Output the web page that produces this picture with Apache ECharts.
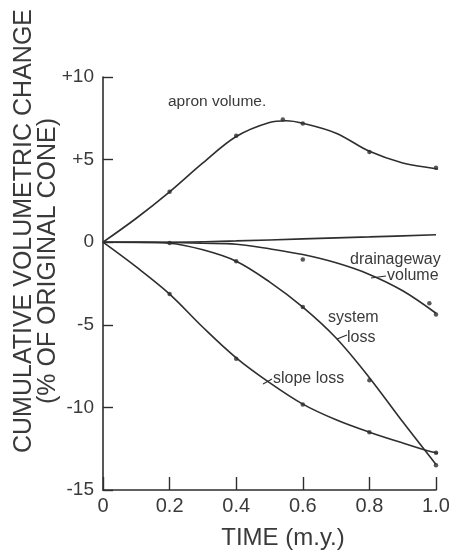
<!DOCTYPE html>
<html>
<head>
<meta charset="utf-8">
<script src="https://cdn.jsdelivr.net/npm/echarts@6/dist/echarts.min.js"></script>
<style>html,body{margin:0;padding:0;background:#fff}#c{width:454px;height:552px}</style>
</head>
<body>
<div id="c"></div>
<script>
// ---- data ----
const xTicks = [0, 0.2, 0.4, 0.6, 0.8, 1.0];
const yTicks = [-15, -10, -5, 0, 5, 10];

const apronCurve = [[0,0],[0.1,1.45],[0.2,3.05],[0.3,4.8],[0.4,6.4],[0.5,7.25],[0.55,7.35],[0.6,7.2],[0.7,6.6],[0.8,5.5],[0.9,4.8],[1.0,4.45],[1.03,4.35]];
const apronPts = [[0.2,3.05],[0.4,6.45],[0.54,7.42],[0.6,7.18],[0.8,5.46],[1.0,4.5]];

const flatLine = [[0,0],[0.2,0],[0.4,0.08],[0.6,0.2],[0.8,0.32],[1.0,0.45]];

const drainCurve = [[0,0],[0.2,-0.02],[0.3,-0.06],[0.4,-0.12],[0.5,-0.4],[0.6,-0.75],[0.7,-1.25],[0.8,-1.95],[0.9,-2.94],[1.0,-4.3]];
const drainPts = [[0.6,-1.05],[0.98,-3.7],[1.0,-4.37]];

const systemCurve = [[0,0],[0.1,0],[0.2,-0.06],[0.3,-0.46],[0.4,-1.15],[0.5,-2.4],[0.6,-3.93],[0.7,-5.8],[0.8,-8.2],[0.9,-10.87],[1.0,-13.45]];
const systemPts = [[0.2,-0.05],[0.4,-1.15],[0.6,-3.93],[0.8,-8.35],[1.0,-13.5]];

const slopeCurve = [[0,0],[0.1,-1.5],[0.2,-3.14],[0.3,-5.15],[0.4,-7.0],[0.5,-8.5],[0.6,-9.8],[0.7,-10.75],[0.8,-11.5],[0.9,-12.15],[1.0,-12.75],[1.02,-12.78]];
const slopePts = [[0.2,-3.14],[0.4,-7.06],[0.6,-9.82],[0.8,-11.5],[1.0,-12.75]];

const curveLabels = ['apron volume.', 'drainageway', 'volume', 'system', 'loss', 'slope loss'];
const yTitle1 = 'CUMULATIVE VOLUMETRIC CHANGE';
const yTitle2 = '(% OF ORIGINAL CONE)';
const xTitle = 'TIME (m.y.)';

// ---- chart ----
const INK = '#2e2e2e';
const TXT = '#3a3a3a';
const FONT = 'Liberation Sans';
const GRID = {left:103, right:18, top:77, bottom:62};
const chart = echarts.init(document.getElementById('c'), null, {renderer: 'canvas'});
const plotH = 552 - GRID.top - GRID.bottom;

function lineSeries(d){
  return {type:'line', data:d, smooth:0.35, showSymbol:false, clip:false,
    lineStyle:{color:INK, width:1.6}, silent:true, z:2};
}
function ptSeries(d){
  return {type:'scatter', data:d, symbol:'circle', symbolSize:4.5, clip:false,
    itemStyle:{color:INK}, silent:true, z:3};
}

chart.setOption({
  animation:false,
  backgroundColor:'#fff',
  grid:GRID,
  xAxis:[{type:'value', min:0, max:1.0, interval:0.2,
    axisLine:{show:true, onZero:false, lineStyle:{color:INK, width:1.6}},
    axisTick:{show:false},
    splitLine:{show:false},
    axisLabel:{color:TXT, fontFamily:FONT, fontSize:20, margin:6,
      formatter:v => v===0 ? '0' : v.toFixed(1)}
  },{
    // tick-only copy of the time axis: a top axis moved down to the bottom edge, ticks pointing up
    type:'value', min:0, max:1.0, interval:0.2, position:'top', offset:-plotH,
    axisLine:{show:false, onZero:false},
    axisTick:{show:true, inside:false, length:13, lineStyle:{color:INK, width:1.4}},
    axisLabel:{show:false}, splitLine:{show:false}
  }],
  yAxis:{type:'value', min:-15, max:10, interval:5,
    axisLine:{show:true, onZero:false, lineStyle:{color:INK, width:1.6}},
    axisTick:{show:true, inside:true, length:10, lineStyle:{color:INK, width:1.4}},
    splitLine:{show:false},
    axisLabel:{color:TXT, fontFamily:FONT, fontSize:19, margin:9,
      formatter:v => (v>0 ? '+'+v : String(v))}
  },
  series:[
    lineSeries(apronCurve), ptSeries(apronPts),
    lineSeries(flatLine),
    lineSeries(drainCurve), ptSeries(drainPts),
    lineSeries(systemCurve), ptSeries(systemPts),
    lineSeries(slopeCurve), ptSeries(slopePts)
  ],
  graphic:[
    {type:'text', x:24, y:231, rotation:Math.PI/2, style:{text:yTitle1, fill:TXT, font:'25px '+FONT, align:'center', verticalAlign:'middle'}},
    {type:'text', x:48, y:261, rotation:Math.PI/2, style:{text:yTitle2, fill:TXT, font:'25px '+FONT, align:'center', verticalAlign:'middle'}},
    {type:'text', x:283, y:538, style:{text:xTitle, fill:TXT, font:'24px '+FONT, align:'center', verticalAlign:'middle'}},
    {type:'text', x:168, y:102, style:{text:curveLabels[0], fill:TXT, font:'15.5px '+FONT, align:'left', verticalAlign:'middle'}},
    {type:'text', x:350, y:260, style:{text:curveLabels[1], fill:TXT, font:'16px '+FONT, align:'left', verticalAlign:'middle'}},
    {type:'text', x:387, y:276, style:{text:curveLabels[2], fill:TXT, font:'16px '+FONT, align:'left', verticalAlign:'middle'}},
    {type:'text', x:328, y:318, style:{text:curveLabels[3], fill:TXT, font:'16px '+FONT, align:'left', verticalAlign:'middle'}},
    {type:'text', x:347, y:338, style:{text:curveLabels[4], fill:TXT, font:'16px '+FONT, align:'left', verticalAlign:'middle'}},
    {type:'text', x:273, y:379, style:{text:curveLabels[5], fill:TXT, font:'16px '+FONT, align:'left', verticalAlign:'middle'}},
    {type:'polyline', shape:{points:[[337,339],[347,335]]}, style:{stroke:INK, lineWidth:1.2}},
    {type:'polyline', shape:{points:[[263,384],[272,379]]}, style:{stroke:INK, lineWidth:1.2}},
    {type:'polyline', shape:{points:[[371,278],[386,276]]}, style:{stroke:INK, lineWidth:1.2}}
  ]
});
</script>
</body>
</html>
